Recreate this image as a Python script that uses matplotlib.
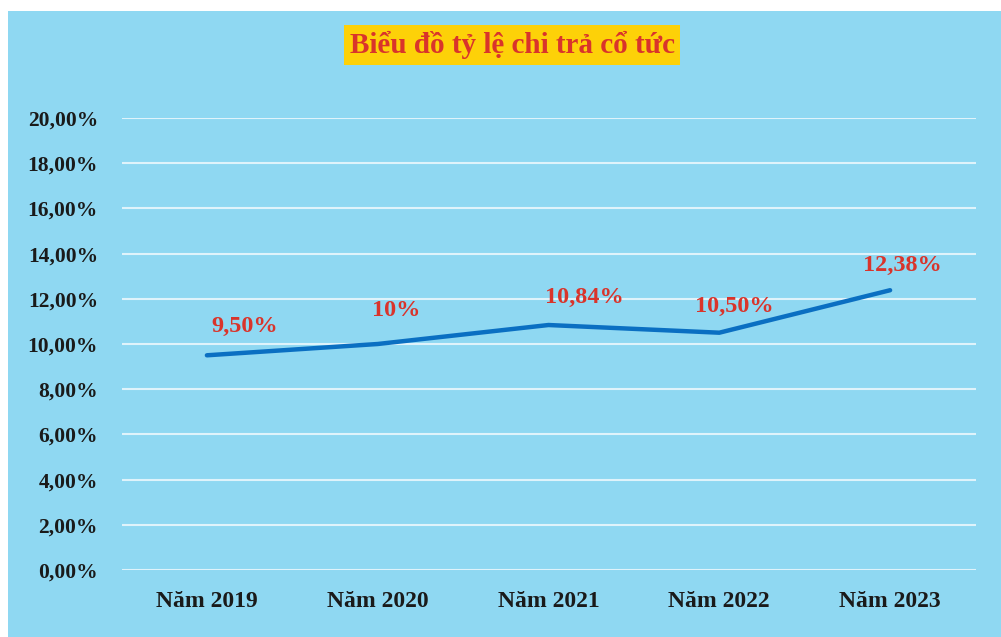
import numpy as np
import matplotlib as mlib
mlib.use('Agg')
import matplotlib.pyplot as plt
from matplotlib.patches import Rectangle

mlib.rcParams.update({'font.family': ['Liberation Serif', 'DejaVu Serif']})

# chart data
years = ["Năm 2019", "Năm 2020", "Năm 2021", "Năm 2022", "Năm 2023"]
payout_ratio = [9.50, 10.00, 10.84, 10.50, 12.38]
value_labels = ["9,50%", "10%", "10,84%", "10,50%", "12,38%"]
y_ticks = [0, 2, 4, 6, 8, 10, 12, 14, 16, 18, 20]
y_tick_labels = ["0,00%", "2,00%", "4,00%", "6,00%", "8,00%", "10,00%",
                 "12,00%", "14,00%", "16,00%", "18,00%", "20,00%"]
title = "Biểu đồ tỷ lệ chi trả cổ tức"

BG = '#8fd8f2'
LINE = '#0a6fc2'
RED = '#d9342b'

fig = plt.figure(figsize=(10.01, 6.37), dpi=100)
fig.patch.set_facecolor('white')
# blue panel of the scanned chart
fig.patches.append(Rectangle((8 / 1001, 0), 1, 1 - 11 / 637,
                             transform=fig.transFigure, facecolor=BG,
                             edgecolor='none', zorder=-5))

ax = fig.add_axes([121.5 / 1001, 1 - 570 / 637, 854 / 1001, 452 / 637])
ax.set_facecolor('none')

x = np.arange(len(years))
ax.plot(x, payout_ratio, color=LINE, lw=3.2, solid_capstyle='round', zorder=3)

# label offsets in points (dx, dy) relative to each point
offsets = [(27, 21), (13, 24), (26, 20), (11, 19), (9, 18)]
for xi, yi, lab, (dx, dy) in zip(x, payout_ratio, value_labels, offsets):
    ax.annotate(lab, (xi, yi), xytext=(dx, dy), textcoords='offset points',
                ha='center', va='center', color=RED, fontsize=17.5,
                fontweight='bold')

ax.set_xlim(-0.5, len(years) - 0.5)
ax.set_ylim(0, 20)
ax.set_yticks(y_ticks)
ax.set_yticklabels(y_tick_labels)
ax.set_xticks(x)
ax.set_xticklabels(years)
ax.grid(axis='y', color='#dff3fb', lw=1.5)
ax.set_axisbelow(True)
for s in ax.spines.values():
    s.set_visible(False)
ax.tick_params(axis='both', length=0, colors='#1a1a1a')
ax.tick_params(axis='y', pad=17, labelsize=15.5)
ax.tick_params(axis='x', pad=15, labelsize=17)
for t in ax.get_xticklabels() + ax.get_yticklabels():
    t.set_fontweight('bold')

fig.text(512 / 1001, 1 - 45 / 637, title, ha='center', va='center',
         color=RED, fontsize=21, fontweight='bold',
         bbox=dict(boxstyle='square,pad=0.2', facecolor='#fdd108',
                   edgecolor='none'))

fig.savefig('out.png', dpi=100, facecolor=fig.get_facecolor())
